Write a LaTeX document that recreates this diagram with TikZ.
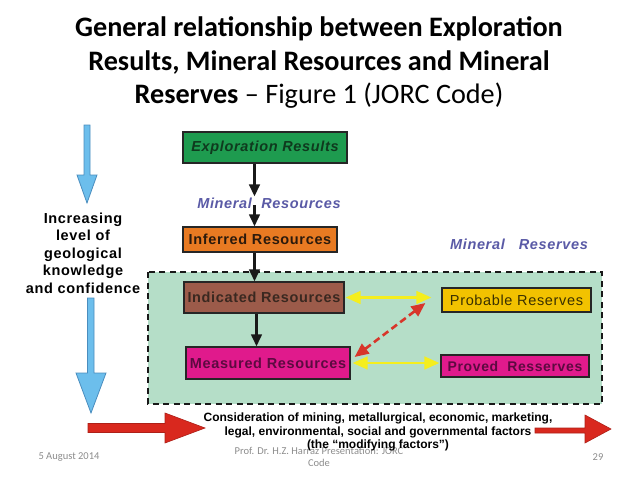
\documentclass[tikz,border=0pt]{standalone}
\usepackage{fontspec}
\setmainfont{Carlito}
\newfontfamily\arialfont{Liberation Sans}
\newfontfamily\arialspaced{Liberation Sans}[LetterSpace=4.5]
\usepackage{xcolor}
\definecolor{cExpl}{HTML}{1E9B4F}
\definecolor{cExplText}{HTML}{0F3A1E}
\definecolor{cInf}{HTML}{E87A22}
\definecolor{cInfText}{HTML}{2B1A0C}
\definecolor{cInd}{HTML}{9C5B4A}
\definecolor{cIndText}{HTML}{3A2820}
\definecolor{cMeas}{HTML}{E01A8C}
\definecolor{cMeasText}{HTML}{5C0A40}
\definecolor{cProb}{HTML}{F2C200}
\definecolor{cProbText}{HTML}{3A3000}
\definecolor{cRegion}{HTML}{B5DEC8}
\definecolor{cLabel}{HTML}{5A5AA6}
\definecolor{cLink}{HTML}{F5EE1E}
\definecolor{cDash}{HTML}{D8352A}
\definecolor{cBlock}{HTML}{D9281E}
\definecolor{cSky}{HTML}{6CBEEC}
\definecolor{cSkyEdge}{HTML}{4A8DBE}
\definecolor{cFoot}{HTML}{8C8C8C}
\usepackage{tikz}
\usetikzlibrary{arrows.meta}
\tikzset{
  res-box/.style={draw=black!85,line width=1.2pt,inner sep=0pt,align=center,
    font=\arialspaced\bfseries\fontsize{14.5}{16}\selectfont},
  res-label/.style={inner sep=1pt,text=cLabel,
    font=\arialspaced\bfseries\itshape\fontsize{14.5}{16}\selectfont},
  side-text/.style={align=center,inner sep=0pt,
    font=\arialspaced\bfseries\fontsize{14.5}{17.5}\selectfont},
  factor-text/.style={align=center,inner sep=0pt,
    font=\arialfont\bfseries\fontsize{12}{13.5}\selectfont},
  title-text/.style={align=center,inner sep=0pt,
    font=\bfseries\fontsize{28.2}{33.5}\selectfont},
  footer-text/.style={align=center,inner sep=0pt,text=cFoot,
    font=\fontsize{10.5}{12}\selectfont},
  region/.style={draw=black!90,line width=2.8pt,dash pattern=on 6pt off 4.5pt,fill=cRegion},
  % pfeile zwischen den kaesten
  arrow-flow/.style={-{Triangle[length=12pt,width=10.5pt]},line width=2.6pt,draw=black!90},
  arrow-link/.style={{Triangle[length=15pt,width=12.5pt]}-{Triangle[length=15pt,width=12.5pt]},
    line width=2.8pt,draw=cLink},
  arrow-dash/.style={{Triangle[length=14pt,width=12pt]}-{Triangle[length=14pt,width=12pt]},
    line width=2.6pt,dash pattern=on 7pt off 4pt,draw=cDash},
  block-sky/.style={fill=cSky,draw=cSkyEdge,line width=0.8pt},
  block-red/.style={fill=cBlock,draw=cBlock!80!black,line width=0.6pt},
}

\begin{document}
\begin{tikzpicture}[x=1pt,y=-1pt]
  \useasboundingbox (0,0) rectangle (638,479);
  \node[title-text] (title) at (319,63) {General relationship between Exploration\\
    Results, Mineral Resources and Mineral\\
    Reserves {\mdseries – Figure 1 (JORC Code)}};

  % blaue pfeile links
  \draw[block-sky] (84,125) -- (90,125) -- (90,175) -- (97,175) -- (87,203)
    -- (77,175) -- (84,175) -- cycle;
  \draw[block-sky] (87.5,298) -- (94,298) -- (94,373) -- (106,373) -- (91,413)
    -- (76,373) -- (87.5,373) -- cycle;
  \node[side-text] (knowledge) at (83,253) {Increasing\\level of\\geological\\knowledge\\and confidence};

  \draw[region] (148,272) rectangle (602,404);

  \coordinate (spine) at (254.5,0);
  \node[res-box,fill=cExpl,text=cExplText,font=\arialspaced\bfseries\itshape\fontsize{14.5}{16}\selectfont,
    minimum width=164pt,minimum height=31pt] (expl) at (265,147.5) {Exploration Results};
  \node[res-label] (mres) at (269,203) {Mineral~ Resources};
  \node[res-box,fill=cInf,text=cInfText,minimum width=154pt,minimum height=25pt] (inf) at (260,239.5) {Inferred Resources};
  \node[res-box,fill=cInd,text=cIndText,minimum width=160pt,minimum height=31pt] (ind) at (264,297.5) {Indicated Resources};
  \node[res-box,fill=cMeas,text=cMeasText,minimum width=164pt,minimum height=32pt] (meas) at (268,363) {Measured Resources};
  \node[res-label] (mres2) at (519,244) {Mineral~~ Reserves};
  \node[res-box,fill=cProb,text=cProbText,font=\arialspaced\fontsize{14.5}{16}\selectfont,
    minimum width=149pt,minimum height=24pt] (prob) at (516.5,300) {Probable Reserves};
  \node[res-box,fill=cMeas,text=cMeasText,font=\arialspaced\bfseries\fontsize{14}{16}\selectfont,
    minimum width=148pt,minimum height=22pt] (prov) at (515,366) {Proved~ Resserves};

  \draw[arrow-flow] (expl.south -| spine) -- (mres.north -| spine);
  \draw[arrow-flow] ([yshift=-2pt]mres.center -| spine) -- (inf.north -| spine);
  \draw[arrow-flow] (inf.south -| spine) -- (ind.north -| spine);
  \draw[arrow-flow] ([xshift=2pt]ind.south -| spine) -- ([xshift=2pt]meas.north -| spine);

  \draw[arrow-link,shorten <=1pt,shorten >=10pt] (ind.east) -- (ind.east -| prob.west);
  \draw[arrow-link,shorten <=2pt,shorten >=1pt] (meas.east) -- (meas.east -| prov.west);
  \draw[arrow-dash] ([xshift=4pt,yshift=6pt]meas.east) -- ([xshift=-16pt,yshift=-3pt]prob.west);

  % rote pfeile unten
  \draw[block-red] (88,423.5) -- (165,423.5) -- (165,413) -- (205,428) -- (165,443)
    -- (165,432.5) -- (88,432.5) -- cycle;
  \draw[block-red] (535,428) -- (585,428) -- (585,415) -- (611,429) -- (585,443)
    -- (585,433) -- (535,433) -- cycle;

  \node[footer-text] (date) at (69,457) {5 August 2014};
  \node[footer-text] (author) at (319,457) {Prof. Dr. H.Z. Harraz Presentation: JORC\\Code};
  \node[footer-text] (page) at (598,457) {29};

  \node[factor-text] (factors) at (378,432) {Consideration of mining, metallurgical, economic, marketing,\\
    legal, environmental, social and governmental factors\\(the “modifying factors”)};
\end{tikzpicture}
\end{document}
